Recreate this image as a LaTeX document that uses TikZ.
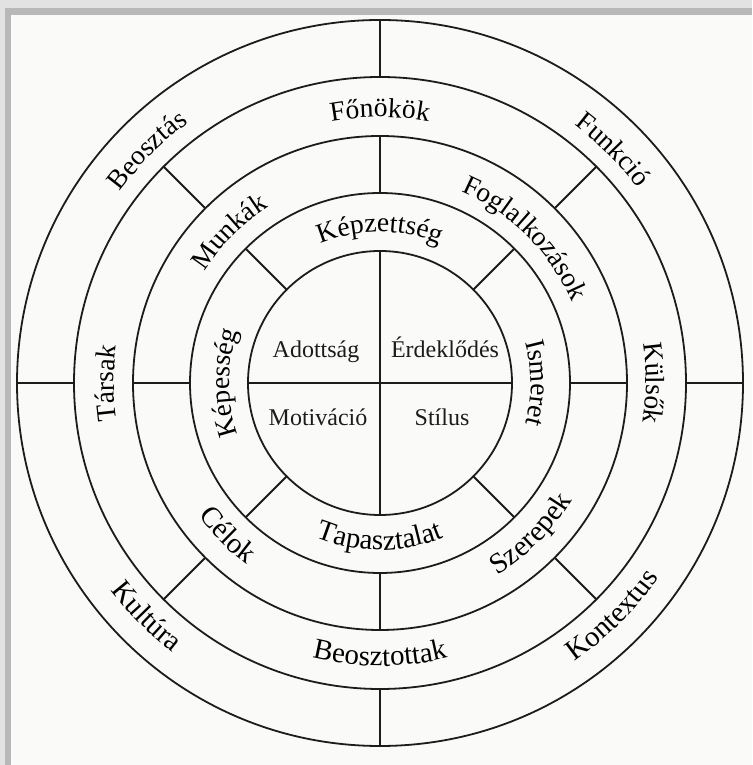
\documentclass[tikz,border=0pt]{standalone}
\usepackage{fontspec}
\setmainfont{Liberation Serif}
\definecolor{PageWhite}{HTML}{FAFAF8}
\definecolor{EdgeGray}{HTML}{B8B8B8}
\definecolor{EdgeLight}{HTML}{E2E2E2}
\definecolor{InkBlack}{HTML}{1C1C1C}
\usetikzlibrary{decorations.text}
\newcommand{\ringfont}{\fontsize{27.5}{30}\selectfont}
\newcommand{\lowfont}{\fontsize{29}{32}\selectfont}
\newcommand{\corefont}{\fontsize{24}{28}\selectfont}

\begin{document}
\begin{tikzpicture}[x=1pt, y=1pt,
    ring/.style={line width=1.8pt, draw=InkBlack, line cap=round},
    arclabel/.style={decorate, decoration={text along path, text align=center,
        text={|\ringfont|#1}}},
    lowlabel/.style={decorate, decoration={text along path, text align=center,
        text={|\lowfont|#1}}},
    core/.style={font=\corefont, text=InkBlack, anchor=base, inner sep=0pt}]
  % Page and its shadowed edge
  \fill[EdgeLight] (0,0) rectangle (752,765);
  \fill[EdgeGray] (5,0) rectangle (752,757);
  \fill[PageWhite] (11,0) rectangle (752,750);
  \useasboundingbox (0,0) rectangle (752,765);
  \begin{scope}[shift={(380,382)}]
    % Rings
    \foreach \r in {132,190,247,306,363}
      \draw[ring] (0,0) circle[radius=\r];
    % Dividers
    \draw[ring] (90:132) -- (270:132);
    \draw[ring] (180:132) -- (0:132);
    \foreach \a in {45,135,225,315} {
      \draw[ring] (\a:132) -- (\a:190);
      \draw[ring] (\a:247) -- (\a:306);
    }
    \foreach \a in {0,90,180,270} {
      \draw[ring] (\a:190) -- (\a:247);
      \draw[ring] (\a:306) -- (\a:363);
    }
    % Core
    \node[core] (adottsag) at (-64,25) {Adottság};
    \node[core] (erdeklodes) at (65,25) {Érdeklődés};
    \node[core] (motivacio) at (-62,-43) {Motiváció};
    \node[core] (stilus) at (62,-43) {Stílus};
    % First ring
    \path[arclabel=Képzettség] (134:151) arc[start angle=134, end angle=46, radius=151];
    \path[arclabel=Ismeret] (44:151) arc[start angle=44, end angle=-44, radius=151];
    \path[arclabel=Képesség] (224:151) arc[start angle=224, end angle=136, radius=151];
    \path[lowlabel=Tapasztalat] (226:167) arc[start angle=226, end angle=314, radius=167];
    % Second ring
    \path[arclabel=Munkák] (179:208) arc[start angle=179, end angle=91, radius=208];
    \path[arclabel=Foglalkozások] (89:208) arc[start angle=89, end angle=1, radius=208];
    \path[lowlabel=Célok] (181:225) arc[start angle=181, end angle=269, radius=225];
    \path[lowlabel=Szerepek] (271:225) arc[start angle=271, end angle=359, radius=225];
    % Third ring
    \path[arclabel=Főnökök] (134:266) arc[start angle=134, end angle=46, radius=266];
    \path[arclabel=Külsők] (44:266) arc[start angle=44, end angle=-44, radius=266];
    \path[arclabel=Társak] (224:266) arc[start angle=224, end angle=136, radius=266];
    \path[lowlabel=Beosztottak] (226:283) arc[start angle=226, end angle=314, radius=283];
    % Outer ring
    \path[arclabel=Beosztás] (179:323) arc[start angle=179, end angle=91, radius=323];
    \path[arclabel=Funkció] (89:323) arc[start angle=89, end angle=1, radius=323];
    \path[lowlabel=Kultúra] (181:340) arc[start angle=181, end angle=269, radius=340];
    \path[lowlabel=Kontextus] (271:340) arc[start angle=271, end angle=359, radius=340];
  \end{scope}
\end{tikzpicture}
\end{document}
